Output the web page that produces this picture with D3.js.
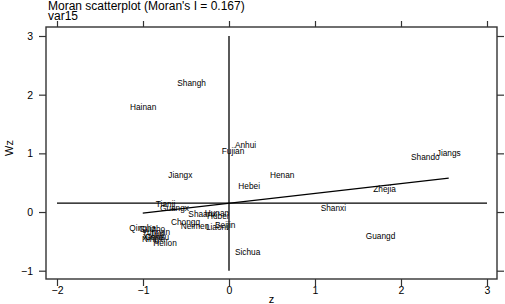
<!DOCTYPE html>
<html>
<head>
<meta charset="utf-8">
<script src="https://cdn.jsdelivr.net/npm/d3@7"></script>
<style>
  body { margin: 0; background: #fff; }
  svg { font-family: "Liberation Sans", Arial, sans-serif; }
</style>
</head>
<body>
<div id="chart"></div>
<script>
// province labels with z and spatially lagged Wz
var names = ["Shangh", "Hainan", "Anhui", "Fujian", "Jiangx", "Henan", "Hebei",
    "Shando", "Jiangs", "Zhejia", "Shanxi", "Guangd", "Sichua", "Tianji", "Guangx",
    "Shaanx", "Hunan", "Hubei", "Chongq", "Neimen", "Liaoni", "Beijin", "Qingha",
    "Guizho", "Yunnan", "Jilin", "Gansu", "Xinjia", "Ningxi", "Heilon"];
var zVals = [-0.435, -0.998, 0.193, 0.047, -0.566, 0.619, 0.235,
    2.283, 2.555, 1.809, 1.214, 1.762, 0.217, -0.737, -0.634,
    -0.309, -0.140, -0.130, -0.506, -0.395, -0.140, -0.044, -1.003,
    -0.895, -0.849, -0.837, -0.837, -0.884, -0.878, -0.744];
var wzVals = [2.203, 1.794, 1.141, 1.039, 0.630, 0.630, 0.443,
    0.942, 1.000, 0.387, 0.073, -0.409, -0.676, 0.136, 0.063,
    -0.039, -0.017, -0.068, -0.175, -0.233, -0.250, -0.221, -0.278,
    -0.298, -0.349, -0.375, -0.421, -0.426, -0.468, -0.523];
var xTicks = [-2, -1, 0, 1, 2, 3];
var yTicks = [-1, 0, 1, 2, 3];
var moranI = 0.167;
var intercept = 0.15;

var width = 505, height = 304;
var frame = { left: 46, top: 27, right: 497, bottom: 279 };

var svg = d3.select("#chart").append("svg")
    .attr("width", width)
    .attr("height", height);

var x = d3.scaleLinear().domain([-2, 3]).range([57, 487]);
var y = d3.scaleLinear().domain([-1, 3]).range([270.7, 36]);

// titles
svg.append("text")
    .attr("x", 48).attr("y", 10)
    .attr("font-size", "12px")
    .text("Moran scatterplot (Moran's I = " + moranI.toFixed(3) + ")");
svg.append("text")
    .attr("x", 48).attr("y", 20)
    .attr("font-size", "12px")
    .text("var15");

// frame
svg.append("rect")
    .attr("x", frame.left).attr("y", frame.top)
    .attr("width", frame.right - frame.left)
    .attr("height", frame.bottom - frame.top)
    .attr("fill", "none")
    .attr("stroke", "#333")
    .attr("stroke-width", 1.4);

var styleAxis = function(g) {
    g.select(".domain").remove();
    g.selectAll("line").attr("stroke", "#333").attr("stroke-width", 1.2);
    g.selectAll("text").attr("fill", "#000").attr("font-size", "10.5px")
        .attr("font-family", "Liberation Sans, Arial, sans-serif");
};

svg.append("g")
    .attr("transform", "translate(" + frame.left + ",0)")
    .call(d3.axisLeft(y).tickValues(yTicks).tickSize(7).tickPadding(6).tickFormat(d3.format("d")))
    .call(styleAxis);
svg.append("g")
    .attr("transform", "translate(" + frame.right + ",0)")
    .call(d3.axisRight(y).tickValues(yTicks).tickSize(7).tickFormat(""))
    .call(styleAxis);
svg.append("g")
    .attr("transform", "translate(0," + frame.bottom + ")")
    .call(d3.axisBottom(x).tickValues(xTicks).tickSize(7).tickPadding(1).tickFormat(d3.format("d")))
    .call(styleAxis);
svg.append("g")
    .attr("transform", "translate(0," + frame.top + ")")
    .call(d3.axisTop(x).tickValues(xTicks).tickSize(6).tickFormat(""))
    .call(styleAxis);

// axis titles
svg.append("text")
    .attr("x", (frame.left + frame.right) / 2).attr("y", 303)
    .attr("text-anchor", "middle")
    .attr("font-size", "11px")
    .text("z");
svg.append("text")
    .attr("transform", "translate(13,148) rotate(-90)")
    .attr("text-anchor", "middle")
    .attr("font-size", "11px")
    .text("Wz");

// reference lines
svg.append("line")
    .attr("x1", x(-2)).attr("x2", x(3))
    .attr("y1", y(intercept)).attr("y2", y(intercept))
    .attr("stroke", "#000").attr("stroke-width", 1.3);
svg.append("line")
    .attr("x1", x(0)).attr("x2", x(0))
    .attr("y1", y(3)).attr("y2", y(-1))
    .attr("stroke", "#000").attr("stroke-width", 1.3);

// fitted line
var zExt = d3.extent(zVals);
svg.append("line")
    .attr("x1", x(zExt[0])).attr("x2", x(zExt[1]))
    .attr("y1", y(intercept + moranI * zExt[0]))
    .attr("y2", y(intercept + moranI * zExt[1]))
    .attr("stroke", "#000").attr("stroke-width", 1.3);

// point labels
var points = names.map(function(n, i) {
    return { name: n, z: zVals[i], wz: wzVals[i] };
});

svg.append("g").selectAll("text")
    .data(points)
    .enter().append("text")
    .attr("x", function(d) { return x(d.z); })
    .attr("y", function(d) { return y(d.wz); })
    .attr("dy", "0.35em")
    .attr("text-anchor", "middle")
    .attr("font-size", "8.3px")
    .attr("fill", "#000")
    .text(function(d) { return d.name; });
</script>
</body>
</html>
